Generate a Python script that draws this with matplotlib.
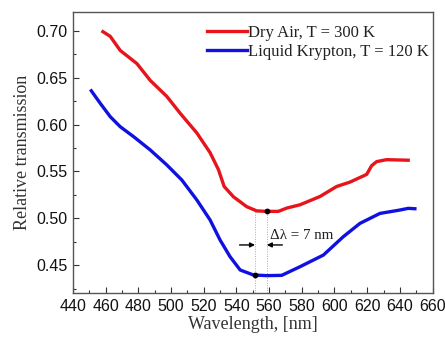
import matplotlib
matplotlib.use("Agg")
import matplotlib.pyplot as plt
from matplotlib.ticker import MultipleLocator

# Data
air_wl = [458.3, 462.8, 468.9, 479.1, 487.3, 497.4, 505.6, 515.8, 523.9, 529.0, 532.5,
          538.2, 546.3, 552.4, 558.6, 565.7, 570.8, 578.9, 591.1, 601.3, 609.5, 619.7,
          622.7, 625.8, 631.9, 645.1]
air_tr = [0.699, 0.694, 0.679, 0.665, 0.647, 0.630, 0.612, 0.591, 0.570, 0.552, 0.534,
          0.523, 0.5125, 0.508, 0.5075, 0.5075, 0.511, 0.5145, 0.5233, 0.534, 0.5387, 0.5469,
          0.5561, 0.5605, 0.5626, 0.562]
kr_wl = [451.2, 456.7, 462.8, 468.9, 477.1, 487.3, 497.4, 506.6, 515.8, 523.9, 530.0,
         536.1, 542.3, 550.4, 558.6, 567.7, 578.9, 593.2, 605.4, 615.6, 627.8, 640.0,
         645.1, 649.2]
kr_tr = [0.636, 0.6226, 0.6084, 0.5977, 0.5871, 0.5729, 0.557, 0.5409, 0.5196, 0.4983, 0.477,
         0.4592, 0.445, 0.4397, 0.439, 0.4393, 0.4485, 0.4609, 0.4805, 0.4947, 0.5053, 0.5089,
         0.5107, 0.5103]
min_wl = [551.4, 558.6]
min_tr = [0.4397, 0.5075]
labels = ["Dry Air, T = 300 K", "Liquid Krypton, T = 120 K"]
delta_text = "Δλ = 7 nm"

fig = plt.figure(figsize=(4.45, 3.42), dpi=100)
ax = fig.add_axes([0.164, 0.1433, 0.808, 0.8217])

ax.plot(air_wl, air_tr, color="#e8141c", lw=2.4, label=labels[0], zorder=3)
ax.plot(kr_wl, kr_tr, color="#1010e0", lw=2.4, label=labels[1], zorder=3)

ax.set_xlim(440, 660)
ax.set_ylim(0.4205, 0.72)

# dotted verticals
for x in min_wl:
    ax.plot([x, x], [0.4205, 0.508], ls=(0, (1, 1.5)), color="#aaaaaa", lw=0.7, zorder=2)
ax.scatter(min_wl, min_tr, s=10, color="black", zorder=4)

# arrows
ax.annotate("", xy=(min_wl[0], 0.4717), xytext=(min_wl[0] - 9.5, 0.4717),
            arrowprops=dict(arrowstyle="-|>", color="black", lw=1.0, mutation_scale=7,
                            shrinkA=0, shrinkB=0))
ax.annotate("", xy=(min_wl[1], 0.4717), xytext=(min_wl[1] + 9.5, 0.4717),
            arrowprops=dict(arrowstyle="-|>", color="black", lw=1.0, mutation_scale=7,
                            shrinkA=0, shrinkB=0))
ax.text(560.5, 0.4823, delta_text, family="Liberation Serif", fontsize=10.8,
        ha="left", va="center", color="#222222")

ax.xaxis.set_major_locator(MultipleLocator(20))
ax.xaxis.set_minor_locator(MultipleLocator(10))
ax.yaxis.set_major_locator(MultipleLocator(0.05))
ax.yaxis.set_minor_locator(MultipleLocator(0.025))
ax.yaxis.set_major_formatter(matplotlib.ticker.FormatStrFormatter("%.2f"))
ax.tick_params(which="both", direction="in", top=False, right=False, color="#333333")
ax.tick_params(which="major", length=4, width=0.8, labelsize=11.5, pad=4)
ax.tick_params(which="minor", length=2.5, width=0.8)
for lab in ax.get_xticklabels() + ax.get_yticklabels():
    lab.set_family("Liberation Sans")
    lab.set_color("#111111")
for s in ax.spines.values():
    s.set_color("#555555")
    s.set_linewidth(1.0)

ax.set_xlabel("Wavelength, [nm]", family="Liberation Serif", fontsize=13, color="#333333", labelpad=2)
ax.set_ylabel("Relative transmission", family="Liberation Serif", fontsize=13, color="#333333", labelpad=4)

leg = ax.legend(loc="upper left", bbox_to_anchor=(0.3727, 0.955), frameon=False,
                prop={"family": "Liberation Serif", "size": 12}, handlelength=2.4,
                handletextpad=0.05, labelspacing=0.2, borderaxespad=0, borderpad=0)
for t in leg.get_texts():
    t.set_color("#222222")

fig.savefig("out.png", dpi=100)
